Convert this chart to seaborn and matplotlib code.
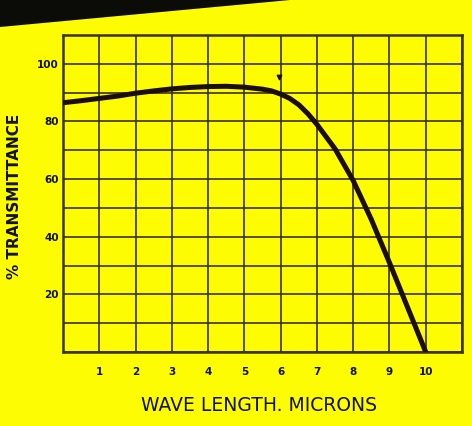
import matplotlib
matplotlib.use("Agg")
import matplotlib.pyplot as plt
from matplotlib.patches import Polygon
import seaborn as sns
import pandas as pd

# Transmittance curve (wavelength in microns, % transmittance)
wavelength = [0, 0.5, 1, 1.5, 2, 2.5, 3, 3.5, 4, 4.5, 5, 5.5, 5.75, 6, 6.25, 6.5,
              6.75, 7, 7.5, 8, 8.5, 9, 9.5, 10]
transmittance = [86.5, 87.2, 88.0, 88.8, 89.8, 90.6, 91.3, 91.8, 92.1, 92.2, 91.9, 91.2,
                 90.6, 89.5, 88.0, 85.8, 82.7, 79.0, 70.5, 59.5, 46.0, 31.0, 15.5, 0.0]

x_ticks = list(range(0, 12))
x_labels = ["", "1", "2", "3", "4", "5", "6", "7", "8", "9", "10", ""]
y_ticks = list(range(0, 120, 10))
y_labels = ["", "", "20", "", "40", "", "60", "", "80", "", "100", ""]

marker_x = [5.95]
marker_y = [95.5]

YELLOW = "#fdfc02"
INK = "#3a3200"

sns.set_style("whitegrid", {
    "axes.facecolor": YELLOW,
    "figure.facecolor": YELLOW,
    "grid.color": INK,
    "axes.edgecolor": INK,
})
plt.rcParams["font.family"] = ["DejaVu Sans"]

fig = plt.figure(figsize=(4.72, 4.26), dpi=100)
W, H = 472, 426
left, right, top, bottom = 63, 462, 35, 352
ax = fig.add_axes([left / W, 1 - bottom / H, (right - left) / W, (bottom - top) / H])

df = pd.DataFrame({"wavelength": wavelength, "transmittance": transmittance})
sns.lineplot(data=df, x="wavelength", y="transmittance", ax=ax,
             color="#1a0d0a", linewidth=3.6, zorder=5)
ax.scatter(marker_x, marker_y, marker="v", s=10, color="#1a0d0a", zorder=6)

ax.set_xlim(0, 11)
ax.set_ylim(0, 110)
ax.set_xticks(x_ticks)
ax.set_xticklabels(x_labels)
ax.set_yticks(y_ticks)
ax.set_yticklabels(y_labels)
ax.grid(True, color=INK, linewidth=1.2)
ax.tick_params(axis="both", length=0, colors="#111111")
ax.tick_params(axis="x", pad=11, labelsize=7.5)
ax.tick_params(axis="y", pad=3, labelsize=7.5)
for lbl in ax.get_xticklabels() + ax.get_yticklabels():
    lbl.set_fontweight("bold")
for sp in ax.spines.values():
    sp.set_visible(True)
    sp.set_color(INK)
    sp.set_linewidth(1.8)

ax.set_xlabel("WAVE LENGTH. MICRONS", fontsize=13.5, color="#111111")
ax.xaxis.set_label_coords(0.49, -0.14)
ax.set_ylabel("% TRANSMITTANCE", fontsize=11, fontweight="bold", color="#111111")
ax.yaxis.set_label_coords(-0.103, 0.49)

# dark shadow in the upper-left corner of the sheet
fig.patches.append(Polygon([(0, 1), (290 / W, 1), (0, 1 - 27 / H)],
                           closed=True, transform=fig.transFigure,
                           facecolor="#0b0b08", edgecolor="none", zorder=10))

fig.savefig("out.png", dpi=100, facecolor=YELLOW)
